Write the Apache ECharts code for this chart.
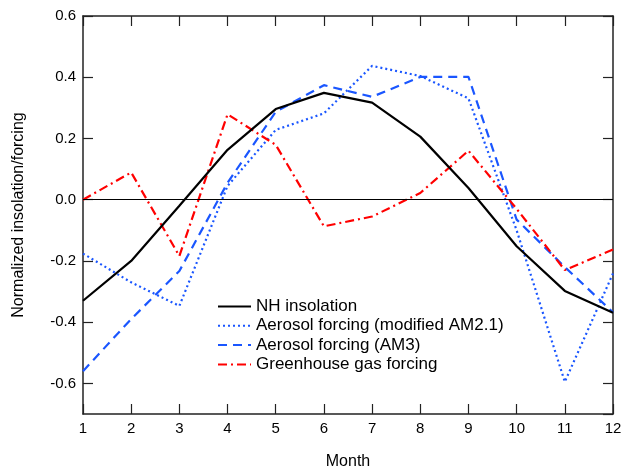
<!DOCTYPE html>
<html>
<head>
<meta charset="utf-8">
<script src="https://cdn.jsdelivr.net/npm/echarts@6/dist/echarts.min.js"></script>
<style>
  html, body { margin: 0; padding: 0; background: #fff; }
  #chart { width: 626px; height: 468px; }
</style>
</head>
<body>
<div id="chart"></div>
<script>
const months = [1, 2, 3, 4, 5, 6, 7, 8, 9, 10, 11, 12];
const nhInsolation = [-0.33, -0.20, -0.02, 0.163, 0.296, 0.349, 0.317, 0.206, 0.038, -0.152, -0.298, -0.369];
const aerosolAM21 = [-0.176, -0.27, -0.347, 0.045, 0.228, 0.282, 0.437, 0.404, 0.331, -0.10, -0.595, -0.241];
const aerosolAM3 = [-0.56, -0.39, -0.233, 0.055, 0.287, 0.374, 0.336, 0.401, 0.401, -0.065, -0.22, -0.368];
const greenhouse = [0.0, 0.089, -0.184, 0.279, 0.179, -0.087, -0.055, 0.022, 0.16, -0.03, -0.23, -0.163];

const blue = '#1a56ff';
const red = '#ff0000';
const font = 'Liberation Sans, Arial, sans-serif';

const pairs = (vals) => months.map((m, i) => [m, vals[i]]);

// x axes point at a hidden y axis that does not cross zero, so they stay on the frame
const axisLine = () => ({ show: true, onZeroAxisIndex: 2, lineStyle: { color: '#222', width: 1.5 } });
const tickIn = () => ({ show: true, inside: true, length: 10, lineStyle: { color: '#222', width: 1.2 } });

const chart = echarts.init(document.getElementById('chart'));
chart.setOption({
  animation: false,
  grid: { left: 83, right: 13, top: 16, bottom: 54, outerBoundsMode: 'none' },
  legend: {
    orient: 'vertical',
    left: 212,
    top: 293,
    itemWidth: 33,
    itemHeight: 14,
    itemGap: 2.3,
    itemStyle: { opacity: 0 },
    textStyle: { fontFamily: font, fontSize: 17, color: '#000' },
    data: ['NH insolation', 'Aerosol forcing (modified AM2.1)', 'Aerosol forcing (AM3)', 'Greenhouse gas forcing']
  },
  xAxis: [
    {
      type: 'value', min: 1, max: 12, interval: 1,
      name: 'Month', nameLocation: 'middle', nameGap: 40,
      nameTextStyle: { fontFamily: font, fontSize: 16, color: '#000' },
      axisLine: axisLine(), axisTick: tickIn(),
      axisLabel: { fontFamily: font, fontSize: 15, color: '#000', margin: 7 },
      splitLine: { show: false }
    },
    {
      type: 'value', min: 1, max: 12, interval: 1, position: 'top',
      axisLine: axisLine(), axisTick: tickIn(),
      axisLabel: { show: false }, splitLine: { show: false }
    }
  ],
  yAxis: [
    {
      type: 'value', min: -0.7, max: 0.6, splitNumber: 6,
      name: 'Normalized insolation/forcing', nameLocation: 'middle', nameGap: 56,
      nameTextStyle: { fontFamily: font, fontSize: 16, color: '#000' },
      axisLine: { show: true, lineStyle: { color: '#222', width: 1.5 } },
      axisTick: tickIn(),
      axisLabel: {
        fontFamily: font, fontSize: 15, color: '#000', margin: 7,
        showMinLabel: false,
        formatter: (v) => v.toFixed(1)
      },
      splitLine: { show: false }
    },
    {
      type: 'value', min: -0.7, max: 0.6, splitNumber: 6, position: 'right',
      axisLine: { show: true, lineStyle: { color: '#222', width: 1.5 } },
      axisTick: tickIn(),
      axisLabel: { show: false }, splitLine: { show: false }
    },
    {
      type: 'value', min: 1, max: 2, show: false
    }
  ],
  series: [
    {
      name: 'NH insolation', type: 'line', data: pairs(nhInsolation),
      symbol: 'none', color: '#000',
      lineStyle: { color: '#000', width: 2.2, type: 'solid' },
      markLine: {
        silent: true, symbol: 'none', label: { show: false },
        lineStyle: { color: '#000', width: 1, type: 'solid' },
        data: [{ yAxis: 0 }]
      },
      z: 5
    },
    {
      name: 'Aerosol forcing (modified AM2.1)', type: 'line', data: pairs(aerosolAM21),
      symbol: 'none', color: blue,
      lineStyle: { color: blue, width: 2.2, type: [2, 3] }
    },
    {
      name: 'Aerosol forcing (AM3)', type: 'line', data: pairs(aerosolAM3),
      symbol: 'none', color: blue,
      lineStyle: { color: blue, width: 2.2, type: [9, 6] }
    },
    {
      name: 'Greenhouse gas forcing', type: 'line', data: pairs(greenhouse),
      symbol: 'none', color: red,
      lineStyle: { color: red, width: 2.2, type: [9, 4, 2, 4] }
    }
  ]
});
</script>
</body>
</html>
